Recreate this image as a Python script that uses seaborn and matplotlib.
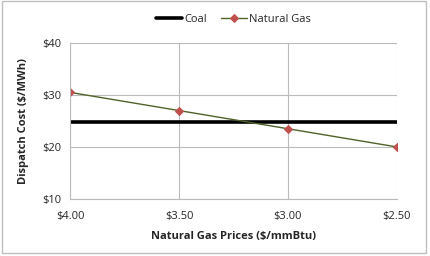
import matplotlib
matplotlib.use("Agg")
import matplotlib.pyplot as plt
import seaborn as sns
import pandas as pd
from matplotlib.patches import Rectangle

gas_prices = [4.00, 3.50, 3.00, 2.50]
tick_labels = ["$4.00", "$3.50", "$3.00", "$2.50"]
coal_cost = [24.8, 24.8, 24.8, 24.8]
gas_cost = [30.5, 27.0, 23.5, 20.0]
y_ticks = [10, 20, 30, 40]
y_labels = ["$10", "$20", "$30", "$40"]

sns.set_theme(style="white")
plt.rcParams['font.family'] = ['Open Sans', 'DejaVu Sans']

df = pd.DataFrame({
    "price": gas_prices * 2,
    "cost": coal_cost + gas_cost,
    "series": ["Coal"] * 4 + ["Natural Gas"] * 4,
})

fig = plt.figure(figsize=(4.30, 2.56), dpi=100)
ax = fig.add_axes([0.163, 0.223, 0.760, 0.609])

sns.lineplot(data=df[df.series == "Coal"], x="price", y="cost", ax=ax,
             color="black", linewidth=2.6, label="Coal")
sns.lineplot(data=df[df.series == "Natural Gas"], x="price", y="cost", ax=ax,
             color="#4F6228", linewidth=1.0, marker="D", markersize=4.5,
             markerfacecolor="#C0504D", markeredgecolor="#C0504D", label="Natural Gas")

ax.set_xlim(4.0, 2.5)
ax.set_ylim(10, 40)
ax.set_xticks(gas_prices)
ax.set_xticklabels(tick_labels, fontsize=8)
ax.set_yticks(y_ticks)
ax.set_yticklabels(y_labels, fontsize=8)
ax.grid(True, color="#BBBBBB", linewidth=0.8)
ax.set_axisbelow(True)
for s in ["top", "right"]:
    ax.spines[s].set_visible(False)
for s in ["left", "bottom"]:
    ax.spines[s].set_color("#BBBBBB")
    ax.spines[s].set_linewidth(0.8)
ax.tick_params(axis="y", length=0, pad=6)
ax.tick_params(axis="x", length=0, pad=9)
ax.set_xlabel("Natural Gas Prices ($/mmBtu)", fontsize=8, fontweight="bold", labelpad=6)
ax.set_ylabel("Dispatch Cost ($/MWh)", fontsize=8, fontweight="bold", labelpad=10)

leg = ax.legend(loc="center", bbox_to_anchor=(0.5, 1.15), ncol=2, frameon=False,
                fontsize=8, handlelength=2.4, handletextpad=0.2, columnspacing=1.2)

fig.patches.append(Rectangle((0.005, 0.01), 0.985, 0.985, transform=fig.transFigure,
                             fill=False, edgecolor="#BFBFBF", linewidth=1.0))

fig.savefig("out.png", dpi=100)
